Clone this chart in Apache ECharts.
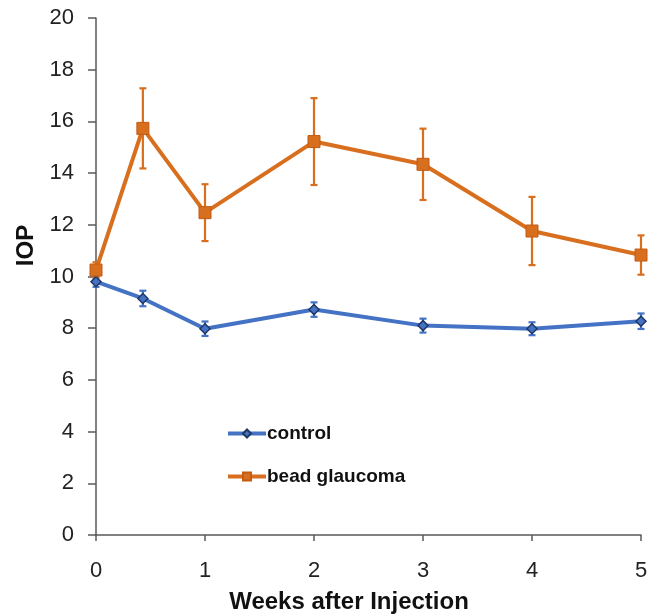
<!DOCTYPE html>
<html><head><meta charset="utf-8">
<script src="https://cdn.jsdelivr.net/npm/echarts@6/dist/echarts.min.js"></script>
<style>html,body{margin:0;padding:0;background:#fff}#c{width:661px;height:615px}</style>
</head><body><div id="c"></div>
<script>
var weeks = [0, 0.43, 1, 2, 3, 4, 5];
var controlMean = [9.8, 9.15, 7.98, 8.72, 8.1, 7.98, 8.27];
var controlErr = [0.2, 0.3, 0.28, 0.28, 0.27, 0.25, 0.3];
var glaucomaMean = [10.25, 15.73, 12.47, 15.22, 14.34, 11.76, 10.83];
var glaucomaErr = [0.3, 1.55, 1.1, 1.68, 1.38, 1.32, 0.76];
var yTicks = [0, 2, 4, 6, 8, 10, 12, 14, 16, 18, 20];
var xTicks = [0, 1, 2, 3, 4, 5];

var blue = '#4472C4', orange = '#D86F1F';
function pairs(m){ return weeks.map(function(w,i){ return [w, m[i]]; }); }
function errData(m,e){ return weeks.map(function(w,i){ return [w, m[i]-e[i], m[i]+e[i]]; }); }
function errSeries(m,e,color){
  return {
    type:'custom', silent:true, z:1,
    data: errData(m,e),
    renderItem: function(params, api){
      var x = api.value(0);
      var lo = api.coord([x, api.value(1)]);
      var hi = api.coord([x, api.value(2)]);
      var w = 3.5;
      var st = {stroke: color, lineWidth: 2.2};
      return {type:'group', children:[
        {type:'line', shape:{x1:lo[0],y1:lo[1],x2:hi[0],y2:hi[1]}, style:st},
        {type:'line', shape:{x1:lo[0]-w,y1:lo[1],x2:lo[0]+w,y2:lo[1]}, style:st},
        {type:'line', shape:{x1:hi[0]-w,y1:hi[1],x2:hi[0]+w,y2:hi[1]}, style:st}
      ]};
    }
  };
}
var chart = echarts.init(document.getElementById('c'));
chart.setOption({
  animation:false,
  textStyle:{fontFamily:'Liberation Sans, Arial, sans-serif'},
  grid:{left:96, right:20, top:18, bottom:80, containLabel:false, outerBoundsMode:'none'},
  legend:{
    orient:'vertical', left:221, top:419, itemGap:24, itemWidth:38, itemHeight:10,
    lineStyle:{width:4},
    textStyle:{fontSize:19, fontWeight:'bold', color:'#111', padding:[0,0,0,-4]},
    data:['control','bead glaucoma']
  },
  xAxis:{
    type:'value', min:0, max:5, interval:1,
    name:'Weeks after Injection', nameLocation:'middle', nameGap:55,
    nameTextStyle:{fontSize:24, fontWeight:'bold', color:'#111', padding:[0,39,0,0]},
    axisLine:{show:true, lineStyle:{color:'#595959', width:1.5}},
    axisTick:{show:true, length:6, lineStyle:{color:'#595959', width:1.5}},
    axisLabel:{fontSize:22, color:'#222', margin:25},
    splitLine:{show:false}
  },
  yAxis:{
    type:'value', min:0, max:20, interval:2,
    name:'IOP', nameLocation:'middle', nameGap:58,
    nameTextStyle:{fontSize:24, fontWeight:'bold', color:'#111', padding:[0,0,0,62]},
    axisLine:{show:true, lineStyle:{color:'#595959', width:1.5}},
    axisTick:{show:true, length:8, lineStyle:{color:'#595959', width:1.5}},
    axisLabel:{fontSize:22, color:'#222', margin:22},
    splitLine:{show:false}
  },
  series:[
    errSeries(controlMean, controlErr, blue),
    errSeries(glaucomaMean, glaucomaErr, orange),
    {
      name:'control', type:'line', data:pairs(controlMean), z:3,
      symbol:'diamond', symbolSize:10,
      lineStyle:{color:blue, width:4},
      itemStyle:{color:blue, borderColor:'#1F3864', borderWidth:1.5}
    },
    {
      name:'bead glaucoma', type:'line', data:pairs(glaucomaMean), z:3,
      symbol:'rect', symbolSize:12,
      lineStyle:{color:orange, width:4},
      itemStyle:{color:orange, borderColor:'#C55A11', borderWidth:1}
    }
  ]
});
</script></body></html>
